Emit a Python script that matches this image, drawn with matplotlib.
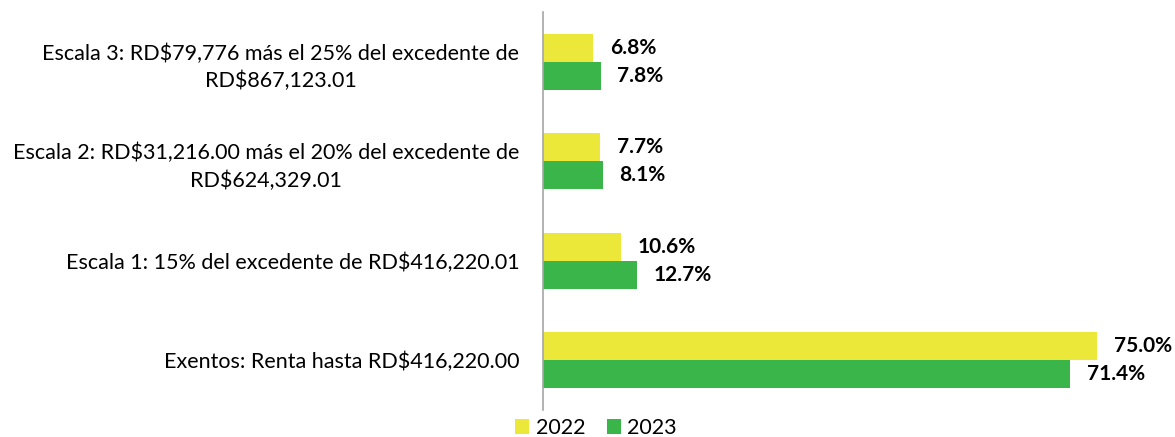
import matplotlib.pyplot as plt
import numpy as np

categories = [
    "Exentos: Renta hasta RD$416,220.00",
    "Escala 1: 15% del excedente de RD$416,220.01",
    "Escala 2: RD$31,216.00 más el 20% del excedente de\nRD$624,329.01",
    "Escala 3: RD$79,776 más el 25% del excedente de\nRD$867,123.01",
]
vals_2022 = [75.0, 10.6, 7.7, 6.8]
vals_2023 = [71.4, 12.7, 8.1, 7.8]
years = ["2022", "2023"]

plt.rcParams['font.family'] = ['Lato', 'DejaVu Sans']

fig = plt.figure(figsize=(11.75, 4.37), dpi=100)
ax = fig.add_axes([543 / 1175, (437 - 410) / 437, (1097 - 543) / 1175, 398 / 437])

y = np.arange(len(categories))
h = 0.28
b1 = ax.barh(y + h / 2, vals_2022, height=h, color='#EBE83A', label=years[0])
b2 = ax.barh(y - h / 2, vals_2023, height=h, color='#3AB54A', label=years[1])

for bars in (b1, b2):
    for bar in bars:
        w = bar.get_width()
        ax.annotate(f'{w:.1f}%', xy=(w, bar.get_y() + bar.get_height() / 2),
                    xytext=(12, 0), textcoords='offset points',
                    ha='left', va='center', fontsize=15, fontweight='bold',
                    annotation_clip=False)

ax.set_xlim(0, 75)
ax.set_ylim(-0.5, 3.5)
ax.set_yticks(y)
ax.set_yticklabels(categories, fontsize=15.5, ha='right', multialignment='center',
                   linespacing=1.45)
ax.tick_params(axis='y', length=0, pad=17)
ax.set_xticks([])
for s in ['top', 'right', 'bottom']:
    ax.spines[s].set_visible(False)
ax.spines['left'].set_color('#A6A6A6')
ax.spines['left'].set_linewidth(1.2)

fig.legend(handles=[b1, b2], loc='center', bbox_to_anchor=(596 / 1175, 1 - 428 / 437),
           ncol=2, frameon=False, fontsize=15.5, handlelength=0.65, handleheight=0.65,
           handletextpad=0.3, columnspacing=1.0, borderaxespad=0)

fig.savefig('out.png', dpi=100)
